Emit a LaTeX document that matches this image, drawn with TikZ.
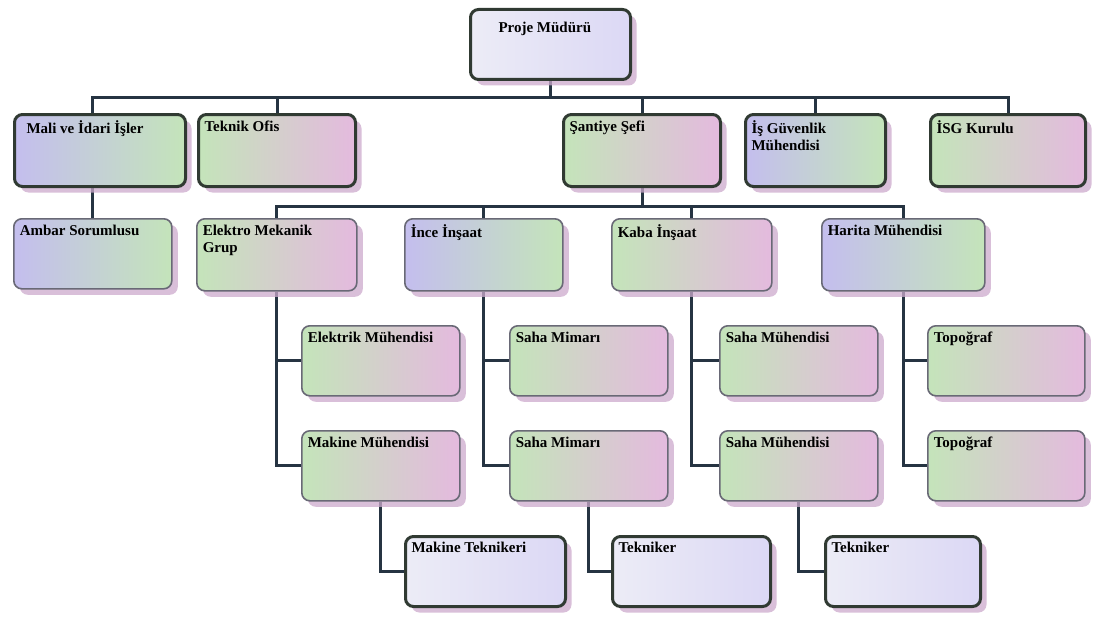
\documentclass[tikz,border=0pt]{standalone}
\usepackage{fontspec}
\setmainfont{Liberation Serif}
\usetikzlibrary{shadows,backgrounds}
\definecolor{linec}{RGB}{38,52,66}
\definecolor{thickb}{RGB}{48,58,50}
\definecolor{thinb}{RGB}{105,105,118}
\definecolor{pgreen}{RGB}{196,228,186}
\definecolor{plav}{RGB}{196,190,238}
\definecolor{ppink}{RGB}{228,186,222}
\definecolor{lwhite}{RGB}{236,236,246}
\definecolor{shadowc}{RGB}{205,170,205}
\tikzset{
  base/.style={rounded corners=8pt, anchor=north west, inner sep=6pt,
    drop shadow={shadow xshift=6pt, shadow yshift=-6pt, fill=shadowc, opacity=0.75},
    font=\fontsize{15}{17}\selectfont\bfseries},
  pastel/.style={left color=pgreen, middle color=plav, right color=ppink},
  pastelb/.style={left color=plav, middle color=ppink, right color=pgreen},
  light/.style={left color=lwhite, middle color=white, right color=plav!60},
  thickbox/.style={base, draw=thickb, line width=3pt},
  thinbox/.style={base, draw=thinb, line width=1.6pt},
  conn/.style={draw=linec, line width=3pt}
}
\newcommand\obox[7]{\node[#1] (#2) at (#3,#4) {\parbox[t][\dimexpr #6pt-12pt\relax][t]{\dimexpr #5pt-12pt\relax}{\raggedright\hspace{0pt}#7}};}
\begin{document}
\begin{tikzpicture}[x=1pt,y=-1pt]
\useasboundingbox (0,0) rectangle (1093,618);
% boxes
\obox{thickbox,light}{pm}{469}{8}{160}{70}{\rule{0pt}{17pt}\hspace*{22pt}Proje Müdürü}
\obox{thickbox,pastelb}{mali}{13}{113}{171}{72}{\hspace*{6pt}Mali ve İdari İşler}
\obox{thickbox,pastel}{tek}{197}{113}{157}{72}{Teknik Ofis}
\obox{thickbox,pastel}{san}{562}{113}{157}{72}{Şantiye Şefi}
\obox{thickbox,pastelb}{isg}{744}{113}{140}{72}{İş Güvenlik Mühendisi}
\obox{thickbox,pastel}{kur}{929}{113}{155}{72}{İSG Kurulu}
\obox{thinbox,pastelb}{amb}{13}{218}{158}{70}{Ambar Sorumlusu}
\obox{thinbox,pastel}{em}{196}{218}{160}{72}{Elektro Mekanik\\Grup}
\obox{thinbox,pastelb}{ince}{404}{218}{158}{72}{İnce İnşaat}
\obox{thinbox,pastel}{kaba}{611}{218}{160}{72}{Kaba İnşaat}
\obox{thinbox,pastelb}{har}{821}{218}{163}{72}{Harita Mühendisi}
\obox{thinbox,pastel}{elk}{301}{325}{158}{70}{Elektrik Mühendisi}
\obox{thinbox,pastel}{mak}{301}{430}{158}{70}{Makine Mühendisi}
\obox{thinbox,pastel}{sm1}{509}{325}{158}{70}{Saha Mimarı}
\obox{thinbox,pastel}{sm2}{509}{430}{158}{70}{Saha Mimarı}
\obox{thinbox,pastel}{sh1}{719}{325}{158}{70}{Saha Mühendisi}
\obox{thinbox,pastel}{sh2}{719}{430}{158}{70}{Saha Mühendisi}
\obox{thinbox,pastel}{top1}{927}{325}{157}{70}{Topoğraf}
\obox{thinbox,pastel}{top2}{927}{430}{157}{70}{Topoğraf}
\obox{thickbox,light}{mt}{404}{535}{160}{70}{Makine Teknikeri}
\obox{thickbox,light}{tk1}{611}{535}{158}{70}{Tekniker}
\obox{thickbox,light}{tk2}{824}{535}{155}{70}{Tekniker}
% connectors beneath boxes
\begin{scope}[on background layer]
\fill[white] (0,0) rectangle (1093,618);
\draw[conn] (pm.south) -- ++(0,17) coordinate (bus);
\draw[conn] (bus) -| (amb.north |- mali.north);
\draw[conn] (bus) -| (tek.north);
\draw[conn] (bus) -| (san.north);
\draw[conn] (bus) -| (isg.north);
\draw[conn] (bus) -| (kur.north);
\draw[conn] (amb.north |- mali.south) -- (amb.north);
\draw[conn] (san.south) -- ++(0,18) coordinate (bus2);
\draw[conn] (bus2) -| (em.north);
\draw[conn] (bus2) -| (ince.north);
\draw[conn] (bus2) -| (kaba.north);
\draw[conn] (bus2) -| (har.north);
\draw[conn] (em.south) |- (elk.west);
\draw[conn] (em.south) |- (mak.west);
\draw[conn] (ince.south) |- (sm1.west);
\draw[conn] (ince.south) |- (sm2.west);
\draw[conn] (kaba.south) |- (sh1.west);
\draw[conn] (kaba.south) |- (sh2.west);
\draw[conn] (har.south) |- (top1.west);
\draw[conn] (har.south) |- (top2.west);
\draw[conn] (mak.south) |- (mt.west);
\draw[conn] (sm2.south) |- (tk1.west);
\draw[conn] (sh2.south) |- (tk2.west);
\end{scope}
\end{tikzpicture}
\end{document}
